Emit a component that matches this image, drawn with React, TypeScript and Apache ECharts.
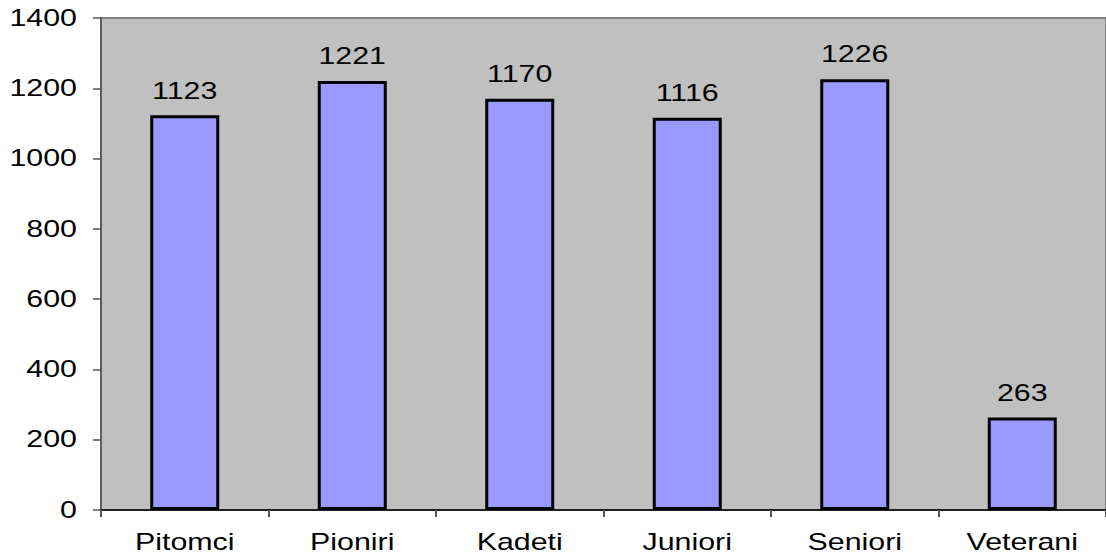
import React, { useEffect, useRef } from "react";
import * as echarts from "echarts";

const categories = ["Pitomci", "Pioniri", "Kadeti", "Juniori", "Seniori", "Veterani"];
const values = [1123, 1221, 1170, 1116, 1226, 263];
const yMin = 0;
const yMax = 1400;
const yInterval = 200;
const yTicks = [0, 200, 400, 600, 800, 1000, 1200, 1400];

const FONT = "Liberation Sans, Arial, sans-serif";
const FONT_SIZE = 23;
const SCALE_X = 1.32;

export default function App() {
  const ref = useRef<HTMLDivElement>(null);
  useEffect(() => {
    if (!ref.current) return;
    const chart = echarts.init(ref.current, null, { renderer: "svg" });
    chart.setOption({
      animation: false,
      backgroundColor: "#ffffff",
      textStyle: { fontFamily: FONT },
      grid: {
        left: 101,
        top: 18,
        width: 1011,
        height: 492,
        show: true,
        backgroundColor: "#C0C0C0",
        borderColor: "#808080",
        borderWidth: 2,
      },
      xAxis: {
        type: "category",
        data: categories,
        axisLine: { show: true, lineStyle: { color: "#000000", width: 1.5 } },
        axisTick: { show: true, alignWithLabel: false, length: 7, lineStyle: { color: "#555555", width: 2 } },
        axisLabel: { show: false },
        splitLine: { show: false },
      },
      yAxis: {
        type: "value",
        min: yMin,
        max: yMax,
        interval: yInterval,
        axisLine: { show: true, lineStyle: { color: "#555555", width: 1.5 } },
        axisTick: { show: true, length: 8, lineStyle: { color: "#555555", width: 1.5 } },
        axisLabel: { show: false },
        splitLine: { show: false },
      },
      series: [
        {
          type: "bar",
          data: values,
          barWidth: 69,
          itemStyle: { color: "#9999FF", borderColor: "#000000", borderWidth: 3 },
          label: { show: false },
        },
      ],
    });

    const textStyle = (text: string, align: string) => ({
      text,
      fill: "#000000",
      font: `${FONT_SIZE}px ${FONT}`,
      textAlign: align,
      textVerticalAlign: "middle",
    });

    const graphics: any[] = [];
    yTicks.forEach((v) => {
      const y = chart.convertToPixel({ yAxisIndex: 0 }, v) as number;
      graphics.push({
        type: "text",
        x: 77,
        y: y,
        scaleX: SCALE_X,
        style: textStyle(String(v), "right"),
      });
    });
    categories.forEach((c, i) => {
      const x = chart.convertToPixel({ xAxisIndex: 0 }, c) as number;
      graphics.push({
        type: "text",
        x: x,
        y: 542,
        scaleX: SCALE_X,
        style: textStyle(c, "center"),
      });
      const top = chart.convertToPixel({ yAxisIndex: 0 }, values[i]) as number;
      graphics.push({
        type: "text",
        x: x,
        y: top - 24.5,
        scaleX: SCALE_X,
        style: textStyle(String(values[i]), "center"),
      });
    });
    chart.setOption({ graphic: graphics });

    return () => chart.dispose();
  }, []);
  return (
    <div
      ref={ref}
      style={{ position: "fixed", left: 0, top: 0, width: 1106, height: 558, background: "#fff" }}
    />
  );
}
